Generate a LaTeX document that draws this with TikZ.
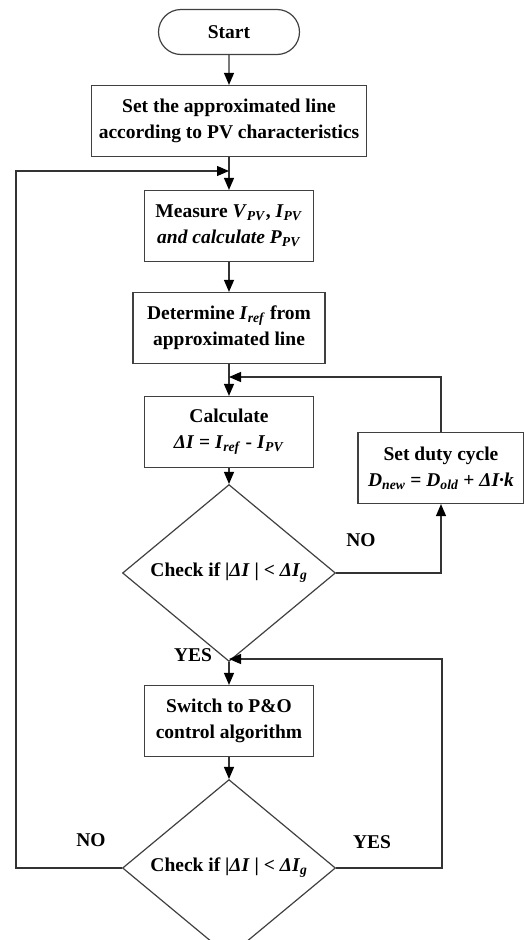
\documentclass[tikz,border=0pt]{standalone}
\usepackage{fontspec}
\setmainfont{Liberation Serif}
\usetikzlibrary{arrows.meta,shapes.geometric,shapes.misc}
\newcommand{\lowidx}[1]{\textsubscript{\textit{#1}}}

\begin{document}
\begin{tikzpicture}[x=1pt,y=-1pt,
    line width=1.2pt, draw=black!75,
    every node/.style={font=\fontsize{19.5}{26}\selectfont\bfseries, align=center, draw=black!75, line width=1.2pt, inner sep=0pt},
    procbox/.style={rectangle, minimum height=71pt},
    termbox/.style={rounded rectangle, minimum width=141pt, minimum height=45pt},
    checkbox/.style={diamond, minimum width=213pt, minimum height=146pt},
    lbl/.style={draw=none},
    arr/.style={draw=black!80, -{Triangle[length=12pt,width=10pt,color=black]}}]
    \useasboundingbox (0,0) rectangle (524,940);
    % main column
    \node[termbox]                     (start)   at (229,32)  {Start};
    \node[procbox, minimum width=275pt] (setline) at (229,121) {Set the approximated line\\according to PV characteristics};
    \node[procbox, minimum width=169pt] (measure) at (229,226) {Measure \textit{V}\lowidx{PV}, \textit{I}\lowidx{PV}\\\textit{and calculate P}\lowidx{PV}};
    \node[procbox, minimum width=192pt] (iref)    at (229,328) {Determine \textit{I}\lowidx{ref} from\\approximated line};
    \node[procbox, minimum width=169pt] (calc)    at (229,432) {Calculate\\\textit{ΔI} = \textit{I}\lowidx{ref} - \textit{I}\lowidx{PV}};
    \node[checkbox]                    (chk1)    at (229,573) {Check if |\textit{ΔI} | < \textit{ΔI}\lowidx{g}};
    \node[procbox, minimum width=169pt] (switch)  at (229,721) {Switch to P\&O\\control algorithm};
    \node[checkbox]                    (chk2)    at (229,868) {Check if |\textit{ΔI} | < \textit{ΔI}\lowidx{g}};
    % side box
    \node[procbox, minimum width=166pt] (duty)    at (441,468) {Set duty cycle\\\textit{D}\lowidx{new} = \textit{D}\lowidx{old} + \textit{ΔI·k}};
    % junctions
    \coordinate (j1) at (229,171);
    \coordinate (j2) at (229,377);
    \coordinate (j3) at (229,659);
    \coordinate (leftrail) at (16,171);
    \coordinate (rightrail) at (442,659);
    % labels
    \node[lbl] (no1)  at (361,540) {NO};
    \node[lbl] (yes1) at (193,655) {YES};
    \node[lbl] (no2)  at (91,840)  {NO};
    \node[lbl] (yes2) at (372,842) {YES};
    % connectors
    \draw[arr] (start) -- (setline);
    \draw[arr] (setline) -- (measure);
    \draw[arr] (measure) -- (iref);
    \draw[arr] (iref) -- (calc);
    \draw[arr] (calc) -- (chk1);
    \draw[arr] (chk1) -- (switch);
    \draw[arr] (switch) -- (chk2);
    \draw[arr] (chk1.east) -| (duty.south);
    \draw[arr] (duty.north) |- (j2);
    \draw[arr] (chk2.east) -| (rightrail) -- (j3);
    \draw[arr] (chk2.west) -| (leftrail) -- (j1);
\end{tikzpicture}
\end{document}
